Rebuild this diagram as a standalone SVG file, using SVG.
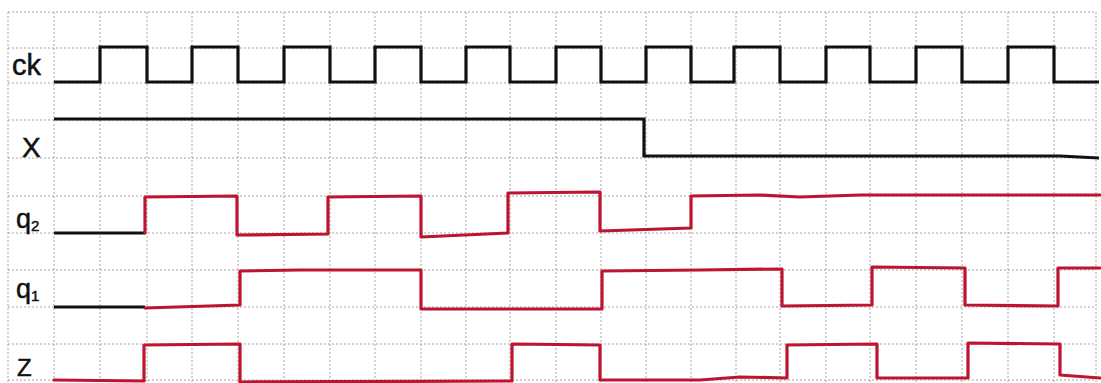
<svg xmlns="http://www.w3.org/2000/svg" width="1101" height="383" viewBox="0 0 1101 383">
<style>
.grid{stroke:#a5a5a5;stroke-width:1;stroke-dasharray:2 2;fill:none}
.blk{stroke:#111;stroke-width:3.2;fill:none;stroke-linejoin:miter}
.red{stroke:#bd1430;stroke-width:3.2;fill:none;stroke-linejoin:round;stroke-linecap:round}
.lbl{font-family:"Liberation Sans",Arial,sans-serif;fill:#111;stroke:#111;stroke-width:0.5}
</style>
<rect width="1101" height="383" fill="#ffffff"/>
<g id="grid" class="grid">
<path d="M8,12 V383 M54,12 V383 M100,12 V383 M147,12 V383 M192,12 V383 M238,12 V383 M284,12 V383 M330,12 V383 M375,12 V383 M421,12 V383 M466,12 V383 M510,12 V383 M556,12 V383 M601,12 V383 M646,12 V383 M691,12 V383 M736,12 V383 M780,12 V383 M826,12 V383 M870,12 V383 M916,12 V383 M962,12 V383 M1008,12 V383 M1054,12 V383 M1096,12 V383"/>
<path d="M8,12 H1096 M8,48 H1096 M8,83 H1096 M8,120 H1096 M8,158 H1096 M8,196 H1096 M8,233 H1096 M8,270 H1096 M8,307 H1096 M8,344 H1096 M8,380 H1096"/>
</g>
<g id="labels" class="lbl">
<text x="12" y="75" font-size="29">ck</text>
<text x="22" y="157" font-size="28">X</text>
<text x="16" y="228" font-size="27">q<tspan font-size="15" dy="3">2</tspan></text>
<text x="16" y="298" font-size="27">q<tspan font-size="15" dy="3">1</tspan></text>
<text x="17" y="376" font-size="24">Z</text>
</g>
<g id="connectors">
<g id="ck"><path class="blk" d="M54,82 H100 V47 H147 V82 H192 V47 H238 V82 H284 V47 H330 V82 H375 V47 H421 V82 H466 V47 H510 V82 H556 V47 H601 V82 H646 V47 H691 V82 H734 V47 H780 V82 H826 V47 H870 V82 H916 V47 H962 V82 H1008 V47 H1054 V82 H1099"/></g>
<g id="x"><path class="blk" d="M54,119 H644 V156 H1060 L1099,158"/></g>
<g id="q2">
<path class="blk" d="M54,233 H145"/>
<path class="red" d="M145,233 V197 L237,196 V235 L328,234 V197 L421,196 V237 L508,233 V193 L600,192 V231 L691,228 V196 L760,195 L800,197 L860,195 L1100,195"/>
</g>
<g id="q1">
<path class="blk" d="M54,307 H145"/>
<path class="red" d="M145,308 L240,305 V271 L300,270 L421,270 V309 L602,309 V271 L700,270 L782,269 V306 L872,305 V267 L965,268 V305 L1058,306 V268 L1100,268"/>
</g>
<g id="z">
<path class="red" d="M54,380 L144,381 V345 L240,344 V382 L512,381 V344 L600,345 V380 L700,380 L740,377 L787,378 V345 L877,344 V378 L968,378 V343 L1060,344 V375 L1100,378"/>
</g>
</g>
</svg>
